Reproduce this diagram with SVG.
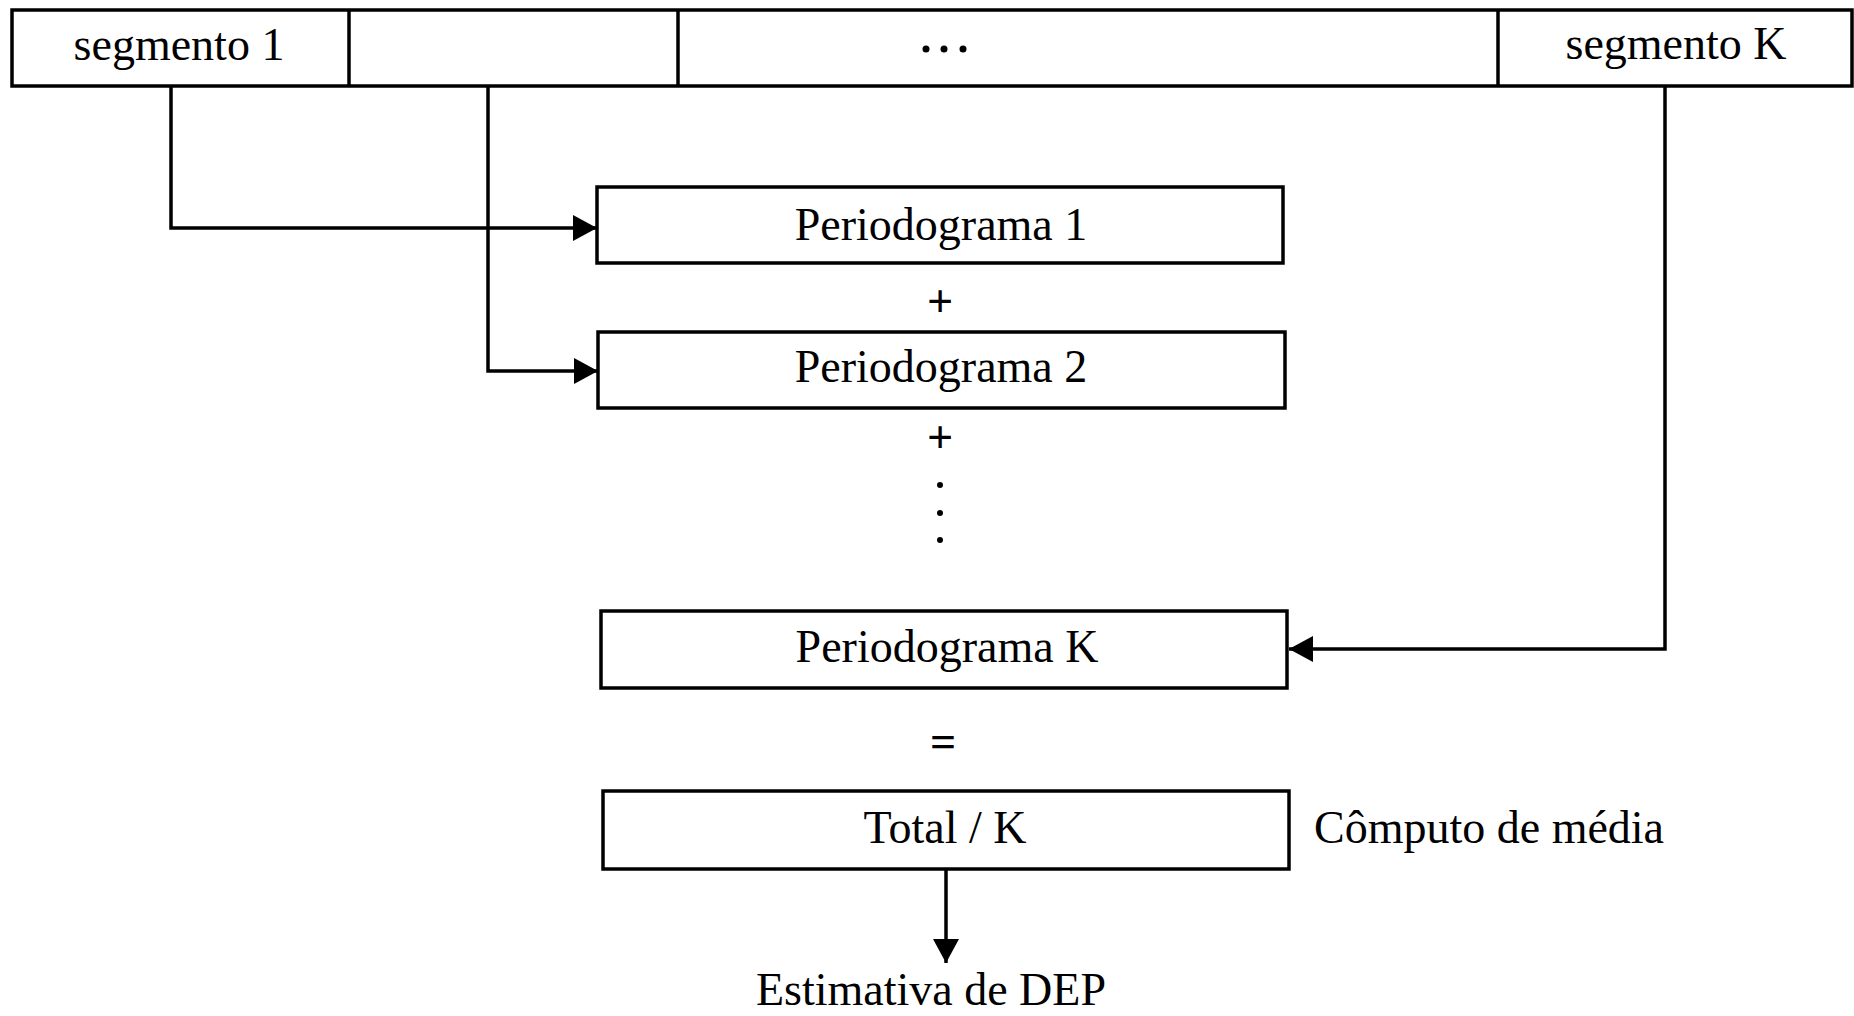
<svg xmlns="http://www.w3.org/2000/svg" width="1854" height="1016" viewBox="0 0 1854 1016">
<style>
.box{fill:#fff;stroke:#000;stroke-width:3.5}
.t{font-family:"Liberation Serif","Times New Roman",serif;font-size:46px;fill:#000;text-anchor:middle}
.op{font-weight:bold}
.c{fill:none;stroke:#000;stroke-width:3.5}
.dot{fill:#000}
</style>
<defs>
<marker id="arr" markerUnits="userSpaceOnUse" markerWidth="24" markerHeight="26" refX="24" refY="13" orient="auto">
<path d="M0,0 L24,13 L0,26 z" fill="#000"/>
</marker>
</defs>
<rect width="1854" height="1016" fill="#fff"/>
<g id="segment-bar">
<rect class="box" x="12" y="10" width="1840" height="76"/>
<line class="c" x1="349" y1="10" x2="349" y2="86"/>
<line class="c" x1="678" y1="10" x2="678" y2="86"/>
<line class="c" x1="1498" y1="10" x2="1498" y2="86"/>
<text class="t" x="179" y="60">segmento 1</text>
<circle class="dot" cx="926" cy="49" r="3.5"/>
<circle class="dot" cx="944" cy="49" r="3.5"/>
<circle class="dot" cx="963" cy="49" r="3.5"/>
<text class="t" x="1676" y="59">segmento K</text>
</g>
<g id="periodograma-1">
<rect class="box" x="597" y="187" width="686" height="76"/>
<text class="t" x="941" y="240">Periodograma 1</text>
</g>
<g id="plus-1"><text class="t op" x="940" y="317">+</text></g>
<g id="periodograma-2">
<rect class="box" x="598" y="332" width="687" height="76"/>
<text class="t" x="941" y="382">Periodograma 2</text>
</g>
<g id="plus-2"><text class="t op" x="940" y="453">+</text></g>
<g id="vdots">
<circle class="dot" cx="940" cy="485" r="3"/>
<circle class="dot" cx="940" cy="513" r="3"/>
<circle class="dot" cx="940" cy="540" r="3"/>
</g>
<g id="periodograma-k">
<rect class="box" x="601" y="611" width="686" height="77"/>
<text class="t" x="947" y="662">Periodograma K</text>
</g>
<g id="equals"><text class="t op" x="943" y="757">=</text></g>
<g id="total-k">
<rect class="box" x="603" y="791" width="686" height="78"/>
<text class="t" x="945" y="843">Total / K</text>
</g>
<g id="computo-label"><text class="t" x="1489" y="843">Cômputo de média</text></g>
<g id="estimativa-label"><text class="t" x="931" y="1005">Estimativa de DEP</text></g>
<g id="connectors">
<polyline class="c" points="171,86 171,228 597,228" marker-end="url(#arr)"/>
<polyline class="c" points="488,86 488,371 598,371" marker-end="url(#arr)"/>
<polyline class="c" points="1665,86 1665,649 1289,649" marker-end="url(#arr)"/>
<line class="c" x1="946" y1="869" x2="946" y2="963" marker-end="url(#arr)"/>
</g>
</svg>
